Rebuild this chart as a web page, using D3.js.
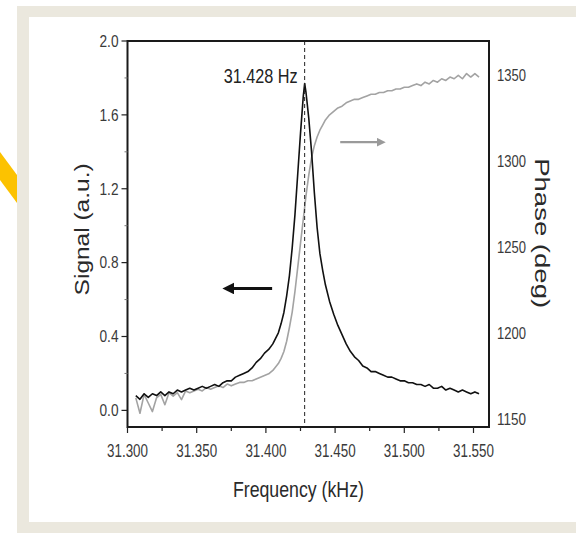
<!DOCTYPE html>
<html>
<head>
<meta charset="utf-8">
<script src="https://cdn.jsdelivr.net/npm/d3@7"></script>
<style>
  html, body { margin: 0; padding: 0; background: #ffffff; }
  svg { display: block; }
  text { font-family: "Liberation Sans", Arial, sans-serif; }
</style>
</head>
<body>
<div id="chart"></div>
<script>
// Resonance scan: signal amplitude (left axis) and phase (right axis) vs frequency.
const WIDTH = 576;
const HEIGHT = 533;

const freq = [
    31.306, 31.309, 31.312, 31.315, 31.318, 31.321, 31.324, 31.327, 31.330, 31.333,
    31.336, 31.339, 31.342, 31.345, 31.348, 31.351, 31.354, 31.357, 31.360, 31.363,
    31.366, 31.369, 31.372, 31.375, 31.378, 31.381, 31.384, 31.387, 31.390, 31.393,
    31.396, 31.399, 31.402, 31.405, 31.407, 31.409, 31.411, 31.413, 31.415, 31.417,
    31.419, 31.421, 31.423, 31.425, 31.427, 31.428, 31.429, 31.431, 31.433, 31.435,
    31.437, 31.439, 31.441, 31.443, 31.446, 31.449, 31.452, 31.455, 31.458, 31.461,
    31.464, 31.467, 31.470, 31.473, 31.476, 31.479, 31.482, 31.485, 31.488, 31.491,
    31.494, 31.497, 31.500, 31.503, 31.506, 31.509, 31.512, 31.515, 31.518, 31.521,
    31.524, 31.527, 31.530, 31.533, 31.536, 31.539, 31.542, 31.545, 31.548, 31.551,
    31.554
];

const signal = [
    0.08, 0.06, 0.09, 0.07, 0.09, 0.08, 0.10, 0.08, 0.10, 0.09,
    0.11, 0.10, 0.11, 0.12, 0.11, 0.12, 0.13, 0.12, 0.13, 0.14,
    0.13, 0.15, 0.16, 0.16, 0.18, 0.19, 0.20, 0.21, 0.23, 0.26,
    0.28, 0.31, 0.33, 0.36, 0.39, 0.42, 0.47, 0.53, 0.62, 0.73,
    0.88, 1.06, 1.28, 1.50, 1.70, 1.77, 1.72, 1.58, 1.40, 1.18,
    0.99, 0.85, 0.76, 0.68, 0.59, 0.52, 0.46, 0.41, 0.36, 0.32,
    0.29, 0.27, 0.24, 0.23, 0.21, 0.21, 0.20, 0.19, 0.18, 0.18,
    0.17, 0.16, 0.16, 0.15, 0.15, 0.14, 0.14, 0.13, 0.14, 0.12,
    0.12, 0.13, 0.11, 0.12, 0.11, 0.10, 0.11, 0.10, 0.09, 0.10,
    0.09
];

const phase = [
    1162, 1153, 1164, 1159, 1154, 1162, 1164, 1158, 1165, 1163,
    1165, 1161, 1166, 1165, 1166, 1167, 1166, 1168, 1167, 1168,
    1169, 1168, 1170, 1169, 1170, 1171, 1171, 1172, 1172, 1173,
    1174, 1175, 1176, 1178, 1180, 1182, 1185, 1189, 1195, 1203,
    1212, 1224, 1238, 1252, 1266, 1273, 1280, 1292, 1302, 1309,
    1314, 1318, 1321, 1324, 1327, 1329, 1331, 1332, 1334, 1335,
    1336, 1336, 1337, 1338, 1339, 1339, 1340, 1340, 1341, 1341,
    1342, 1342, 1343, 1343, 1344, 1345, 1344, 1346, 1345, 1347,
    1346, 1348, 1347, 1349, 1348, 1350, 1348, 1351, 1349, 1351,
    1349
];

const xTicks = [31.300, 31.350, 31.400, 31.450, 31.500, 31.550];
const xMinorTicks = [31.325, 31.375, 31.425, 31.475, 31.525];
const signalTicks = [0.0, 0.4, 0.8, 1.2, 1.6, 2.0];
const signalMinorTicks = [0.2, 0.6, 1.0, 1.4, 1.8];
const phaseTicks = [1150, 1200, 1250, 1300, 1350];
const peakFreq = 31.428;

const margin = { top: 41, right: 87, bottom: 106, left: 127.5 };
const plotRight = WIDTH - margin.right;
const plotBottom = HEIGHT - margin.bottom;

const svg = d3.select("#chart")
    .append("svg")
    .attr("width", WIDTH)
    .attr("height", HEIGHT);

// Page decoration: beige frame, white panel, yellow chevron on the far left.
svg.append("rect")
    .attr("x", 17).attr("y", 6)
    .attr("width", WIDTH - 17).attr("height", HEIGHT - 6)
    .attr("fill", "#ebe8de");
svg.append("rect")
    .attr("x", 29).attr("y", 17)
    .attr("width", WIDTH - 29).attr("height", 505)
    .attr("fill", "#ffffff");
svg.append("polygon")
    .attr("points", "0,152 17,175 17,203 0,180")
    .attr("fill", "#fcc200");

const x = d3.scaleLinear()
    .domain([31.3, 31.5612])
    .range([margin.left, plotRight]);

const ySignal = d3.scaleLinear()
    .domain([-0.09, 2.0])
    .range([plotBottom, margin.top]);

const yPhase = d3.scaleLinear()
    .domain([1145, 1370])
    .range([plotBottom, margin.top]);

const rows = freq.map((f, i) => ({ f, s: signal[i], p: phase[i] }));

// Phase trace sits behind the signal trace.
svg.append("path")
    .datum(rows)
    .attr("fill", "none")
    .attr("stroke", "#a3a3a3")
    .attr("stroke-width", 1.6)
    .attr("stroke-linejoin", "round")
    .attr("d", d3.line().x(d => x(d.f)).y(d => yPhase(d.p)));

svg.append("path")
    .datum(rows)
    .attr("fill", "none")
    .attr("stroke", "#111111")
    .attr("stroke-width", 1.6)
    .attr("stroke-linejoin", "round")
    .attr("d", d3.line().x(d => x(d.f)).y(d => ySignal(d.s)));

// Dashed marker at the resonance.
svg.append("line")
    .attr("x1", x(peakFreq)).attr("x2", x(peakFreq))
    .attr("y1", margin.top).attr("y2", plotBottom)
    .attr("stroke", "#222")
    .attr("stroke-width", 1)
    .attr("stroke-dasharray", "4,3");

// The original uses a condensed face, so squeeze labels to the measured widths.
svg.append("text")
    .attr("x", x(peakFreq) - 7)
    .attr("y", ySignal(1.775))
    .attr("text-anchor", "end")
    .attr("textLength", 74)
    .attr("lengthAdjust", "spacingAndGlyphs")
    .style("font-size", "20px")
    .style("fill", "#222")
    .text("31.428 Hz");

// Plot frame.
svg.append("rect")
    .attr("x", margin.left).attr("y", margin.top)
    .attr("width", plotRight - margin.left)
    .attr("height", plotBottom - margin.top)
    .attr("fill", "none")
    .attr("stroke", "#1a1a1a")
    .attr("stroke-width", 2);

// Bottom axis ticks and labels.
const bottom = svg.append("g");
bottom.selectAll("line.major")
    .data(xTicks)
    .join("line")
    .attr("class", "major")
    .attr("x1", d => x(d)).attr("x2", d => x(d))
    .attr("y1", plotBottom).attr("y2", plotBottom + 6)
    .attr("stroke", "#222").attr("stroke-width", 1.2);
bottom.selectAll("line.minor")
    .data(xMinorTicks)
    .join("line")
    .attr("class", "minor")
    .attr("x1", d => x(d)).attr("x2", d => x(d))
    .attr("y1", plotBottom).attr("y2", plotBottom + 4)
    .attr("stroke", "#222").attr("stroke-width", 1.2);
bottom.selectAll("text")
    .data(xTicks)
    .join("text")
    .attr("x", d => x(d))
    .attr("y", plotBottom + 30)
    .attr("text-anchor", "middle")
    .attr("textLength", 41)
    .attr("lengthAdjust", "spacingAndGlyphs")
    .style("font-size", "18px")
    .style("fill", "#3a3a3a")
    .text(d3.format(".3f"));

// Left axis (signal).
const left = svg.append("g");
left.selectAll("line.major")
    .data(signalTicks)
    .join("line")
    .attr("class", "major")
    .attr("x1", margin.left - 6).attr("x2", margin.left)
    .attr("y1", d => ySignal(d)).attr("y2", d => ySignal(d))
    .attr("stroke", "#222").attr("stroke-width", 1.2);
left.selectAll("line.minor")
    .data(signalMinorTicks)
    .join("line")
    .attr("class", "minor")
    .attr("x1", margin.left - 3).attr("x2", margin.left)
    .attr("y1", d => ySignal(d)).attr("y2", d => ySignal(d))
    .attr("stroke", "#777").attr("stroke-width", 1);
left.selectAll("text")
    .data(signalTicks)
    .join("text")
    .attr("x", margin.left - 9)
    .attr("y", d => ySignal(d))
    .attr("dy", "0.36em")
    .attr("text-anchor", "end")
    .attr("textLength", 19)
    .attr("lengthAdjust", "spacingAndGlyphs")
    .style("font-size", "16px")
    .style("fill", "#3a3a3a")
    .text(d3.format(".1f"));

// Right axis (phase), labels only.
svg.append("g")
    .selectAll("text")
    .data(phaseTicks)
    .join("text")
    .attr("x", plotRight + 8)
    .attr("y", d => yPhase(d))
    .attr("dy", "0.36em")
    .attr("text-anchor", "start")
    .attr("textLength", 29)
    .attr("lengthAdjust", "spacingAndGlyphs")
    .style("font-size", "17px")
    .style("fill", "#3a3a3a")
    .text(d => d);

// Axis titles.
svg.append("text")
    .attr("transform", `translate(89, ${ySignal(0.98)}) rotate(-90)`)
    .attr("text-anchor", "middle")
    .attr("textLength", 132)
    .attr("lengthAdjust", "spacingAndGlyphs")
    .style("font-size", "21px")
    .style("fill", "#2a2a2a")
    .text("Signal (a.u.)");

svg.append("text")
    .attr("x", x(31.4235))
    .attr("y", plotBottom + 70)
    .attr("text-anchor", "middle")
    .attr("textLength", 131)
    .attr("lengthAdjust", "spacingAndGlyphs")
    .style("font-size", "22px")
    .style("fill", "#2a2a2a")
    .text("Frequency (kHz)");

svg.append("text")
    .attr("transform", `translate(535, ${yPhase(1258)}) rotate(90)`)
    .attr("text-anchor", "middle")
    .attr("textLength", 150)
    .attr("lengthAdjust", "spacingAndGlyphs")
    .style("font-size", "20px")
    .style("fill", "#2a2a2a")
    .text("Phase (deg)");

// Arrows pointing to each trace's axis.
svg.append("defs").selectAll("marker")
    .data([{ id: "head-black", color: "#111" }, { id: "head-gray", color: "#9a9a9a" }])
    .join("marker")
    .attr("id", d => d.id)
    .attr("viewBox", "0 0 10 10")
    .attr("refX", 2).attr("refY", 5)
    .attr("markerWidth", 4).attr("markerHeight", 4)
    .attr("orient", "auto")
    .append("path")
    .attr("d", "M0,0 L10,5 L0,10 z")
    .attr("fill", d => d.color);

svg.append("line")
    .attr("x1", x(31.4045)).attr("x2", x(31.3755))
    .attr("y1", ySignal(0.66)).attr("y2", ySignal(0.66))
    .attr("stroke", "#111").attr("stroke-width", 3)
    .attr("marker-end", "url(#head-black)");

svg.append("line")
    .attr("x1", x(31.4537)).attr("x2", x(31.4815))
    .attr("y1", yPhase(1311)).attr("y2", yPhase(1311))
    .attr("stroke", "#9a9a9a").attr("stroke-width", 2.2)
    .attr("marker-end", "url(#head-gray)");
</script>
</body>
</html>
